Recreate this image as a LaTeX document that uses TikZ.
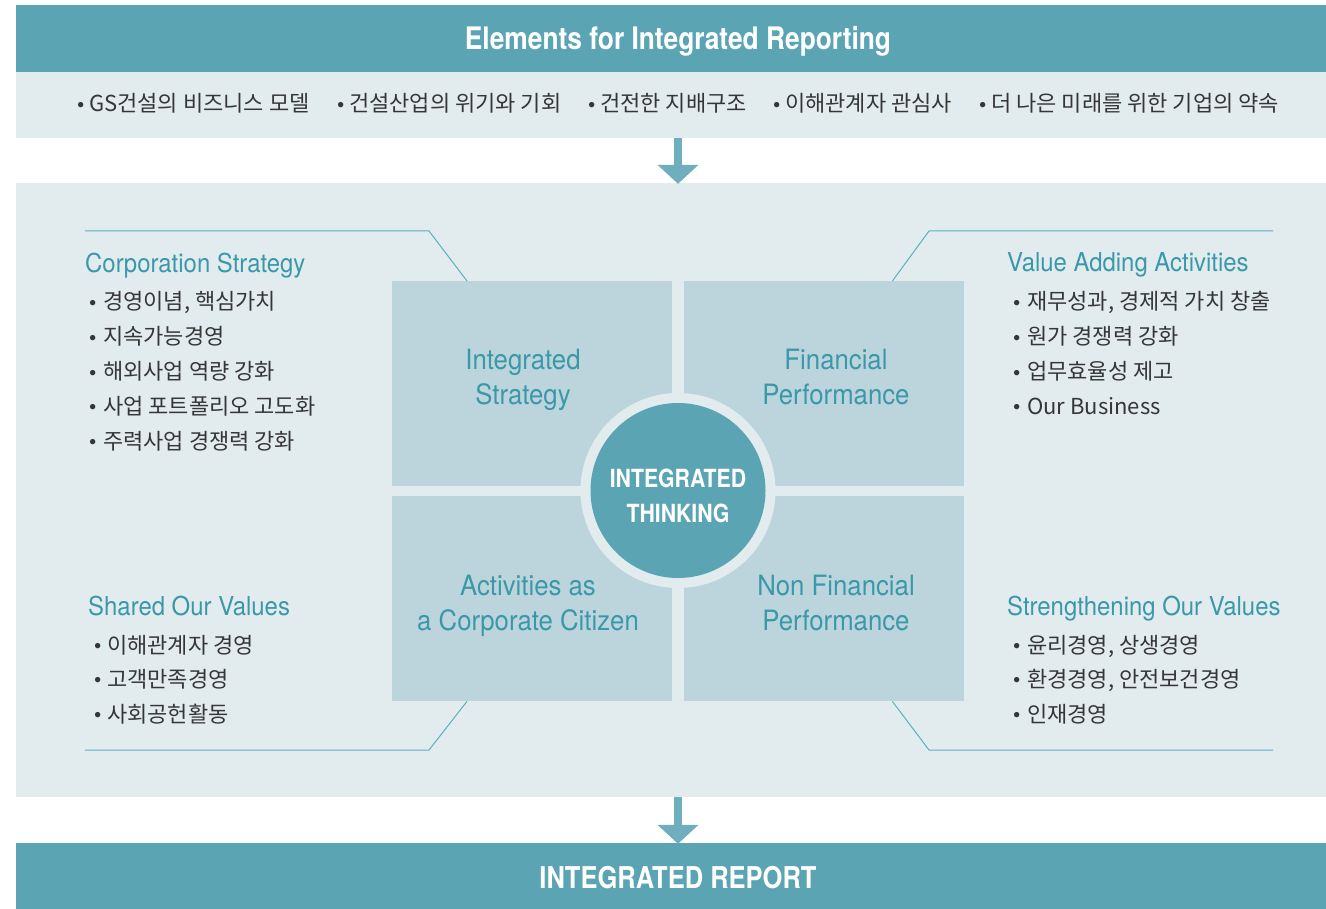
\documentclass[tikz,border=0pt]{standalone}
\usepackage{fontspec}
\usetikzlibrary{arrows.meta}
\newfontfamily\kr{Noto Sans CJK KR}
\newfontfamily\cnd[FakeStretch=0.92]{TeX Gyre Heros}
\newfontfamily\cndb[FakeStretch=0.85]{TeX Gyre Heros}
\definecolor{hdr}{HTML}{5BA4B4}
\definecolor{pale}{HTML}{E2ECEF}
\definecolor{quad}{HTML}{BCD5DC}
\definecolor{arr}{HTML}{6EAEBD}
\definecolor{tealtxt}{HTML}{3A98A9}
\definecolor{tline}{HTML}{5AAFC0}
\definecolor{dark}{HTML}{363636}
\newcommand{\bl}[1][14pt]{\makebox[#1][l]{\hspace{-5pt}\raisebox{0.5pt}{\normalfont\fontsize{24}{24}\selectfont\textbullet}}}
\begin{document}
\begin{tikzpicture}[x=1pt,y=-1pt,
  band/.style={draw=none,inner sep=0pt,minimum width=1310pt},
  quadbox/.style={fill=quad,draw=none,inner sep=0pt,minimum width=280pt,minimum height=205pt},
  head/.style={font=\cnd\fontsize{26}{30}\selectfont,text=tealtxt,anchor=base west,inner sep=0pt},
  qtext/.style={font=\cnd\fontsize{28}{32}\selectfont,text=tealtxt,anchor=base,inner sep=0pt},
  btext/.style={font=\cndb\bfseries\fontsize{25}{30}\selectfont,text=white,anchor=base,inner sep=0pt},
  kb/.style={font=\kr\fontsize{22}{26}\selectfont,text=dark,anchor=base west,inner sep=0pt},
  tl/.style={draw=tline,line width=1pt},
  bigarrow/.style={draw=arr,line width=8pt,-{Triangle[width=40pt,length=19pt]}}]
\fill[white] (0,0) rectangle (1326,909);
\useasboundingbox (0,0) rectangle (1326,909);

% bands
\node[band,fill=hdr,minimum height=67pt] (hdrbar) at (671,38.5) {};
\node[btext,font=\cndb\bfseries\fontsize{31}{36}\selectfont] (hdrtxt) at (678,50) {Elements for Integrated Reporting};
\node[band,fill=pale,minimum height=66pt] (row) at (671,105) {};
\node[band,fill=pale,minimum height=614pt] (panel) at (671,490) {};
\node[band,fill=hdr,minimum height=66pt] (rep) at (671,876) {};
\node[btext,font=\cndb\bfseries\fontsize{30}{36}\selectfont] (reptxt) at (678,888) {INTEGRATED REPORT};

% arrows
\draw[bigarrow] ([xshift=7pt]row.south) -- ([xshift=7pt,yshift=-1pt]panel.north);
\draw[bigarrow] ([xshift=7pt]panel.south) -- ([xshift=7pt,yshift=-1pt]rep.north);

% top bullet row
\node[kb] (r1) at (77,112) {\bl[12pt]GS건설의 비즈니스 모델};
\node[kb] (r2) at (337,112) {\bl[12pt]건설산업의 위기와 기회};
\node[kb] (r3) at (588,112) {\bl[12pt]건전한 지배구조};
\node[kb] (r4) at (773,112) {\bl[12pt]이해관계자 관심사};
\node[kb] (r5) at (979,112) {\bl[12pt]더 나은 미래를 위한 기업의 약속};

% quadrants
\node[quadbox,anchor=north west] (TL) at (392,281) {};
\node[quadbox,anchor=north west] (TR) at (684,281) {};
\node[quadbox,anchor=north west] (BL) at (392,496) {};
\node[quadbox,anchor=north west] (BR) at (684,496) {};

\node[qtext] (q1a) at (523,370) {Integrated};
\node[qtext] (q1b) at (523,404) {Strategy};
\node[qtext] (q2a) at (836,370) {Financial};
\node[qtext] (q2b) at (836,404) {Performance};
\node[qtext] (q3a) at (528,595) {Activities as};
\node[qtext] (q3b) at (528,630) {a Corporate Citizen};
\node[qtext] (q4a) at (836,595) {Non Financial};
\node[qtext] (q4b) at (836,630) {Performance};

% circle
\node[circle,fill=pale,draw=none,minimum size=195pt,inner sep=0pt] (ring) at (678,490.5) {};
\node[circle,fill=hdr,draw=none,minimum size=175pt,inner sep=0pt] (core) at (678,490.5) {};
\node[btext] (it1) at (678,487) {INTEGRATED};
\node[btext] (it2) at (678,522) {THINKING};

% callout lines
\coordinate (l1) at (85,231);
\coordinate (l1b) at (429,231);
\draw[tl] (l1) -- (l1b) -- ([xshift=75pt]TL.north west);
\coordinate (l2) at (85,750);
\coordinate (l2b) at (429,750);
\draw[tl] (l2) -- (l2b) -- ([xshift=75pt]BL.south west);
\coordinate (l3) at (1273,231);
\coordinate (l3b) at (929,231);
\draw[tl] (l3) -- (l3b) -- ([xshift=-72pt]TR.north east);
\coordinate (l4) at (1273,750);
\coordinate (l4b) at (929,750);
\draw[tl] (l4) -- (l4b) -- ([xshift=-72pt]BR.south east);

% Corporation Strategy
\node[head] (cs) at (85,273) {Corporation Strategy};
\node[kb] (cs1) at (89,310) {\bl 경영이념, 핵심가치};
\node[kb] (cs2) at (89,345) {\bl 지속가능경영};
\node[kb] (cs3) at (89,380) {\bl 해외사업 역량 강화};
\node[kb] (cs4) at (89,414) {\bl 사업 포트폴리오 고도화};
\node[kb] (cs5) at (89,449) {\bl 주력사업 경쟁력 강화};

% Value Adding Activities
\node[head] (va) at (1007,272) {Value Adding Activities};
\node[kb] (va1) at (1013,310) {\bl 재무성과, 경제적 가치 창출};
\node[kb] (va2) at (1013,345) {\bl 원가 경쟁력 강화};
\node[kb] (va3) at (1013,380) {\bl 업무효율성 제고};
\node[kb] (va4) at (1013,414) {\bl Our Business};

% Shared Our Values
\node[head] (sv) at (88,615) {Shared Our Values};
\node[kb] (sv1) at (94,653) {\bl[13pt]이해관계자 경영};
\node[kb] (sv2) at (94,687) {\bl[13pt]고객만족경영};
\node[kb] (sv3) at (94,722) {\bl[13pt]사회공헌활동};

% Strengthening Our Values
\node[head] (so) at (1007,615) {Strengthening Our Values};
\node[kb] (so1) at (1013,653) {\bl 윤리경영, 상생경영};
\node[kb] (so2) at (1013,687) {\bl 환경경영, 안전보건경영};
\node[kb] (so3) at (1013,722) {\bl 인재경영};
\end{tikzpicture}
\end{document}
